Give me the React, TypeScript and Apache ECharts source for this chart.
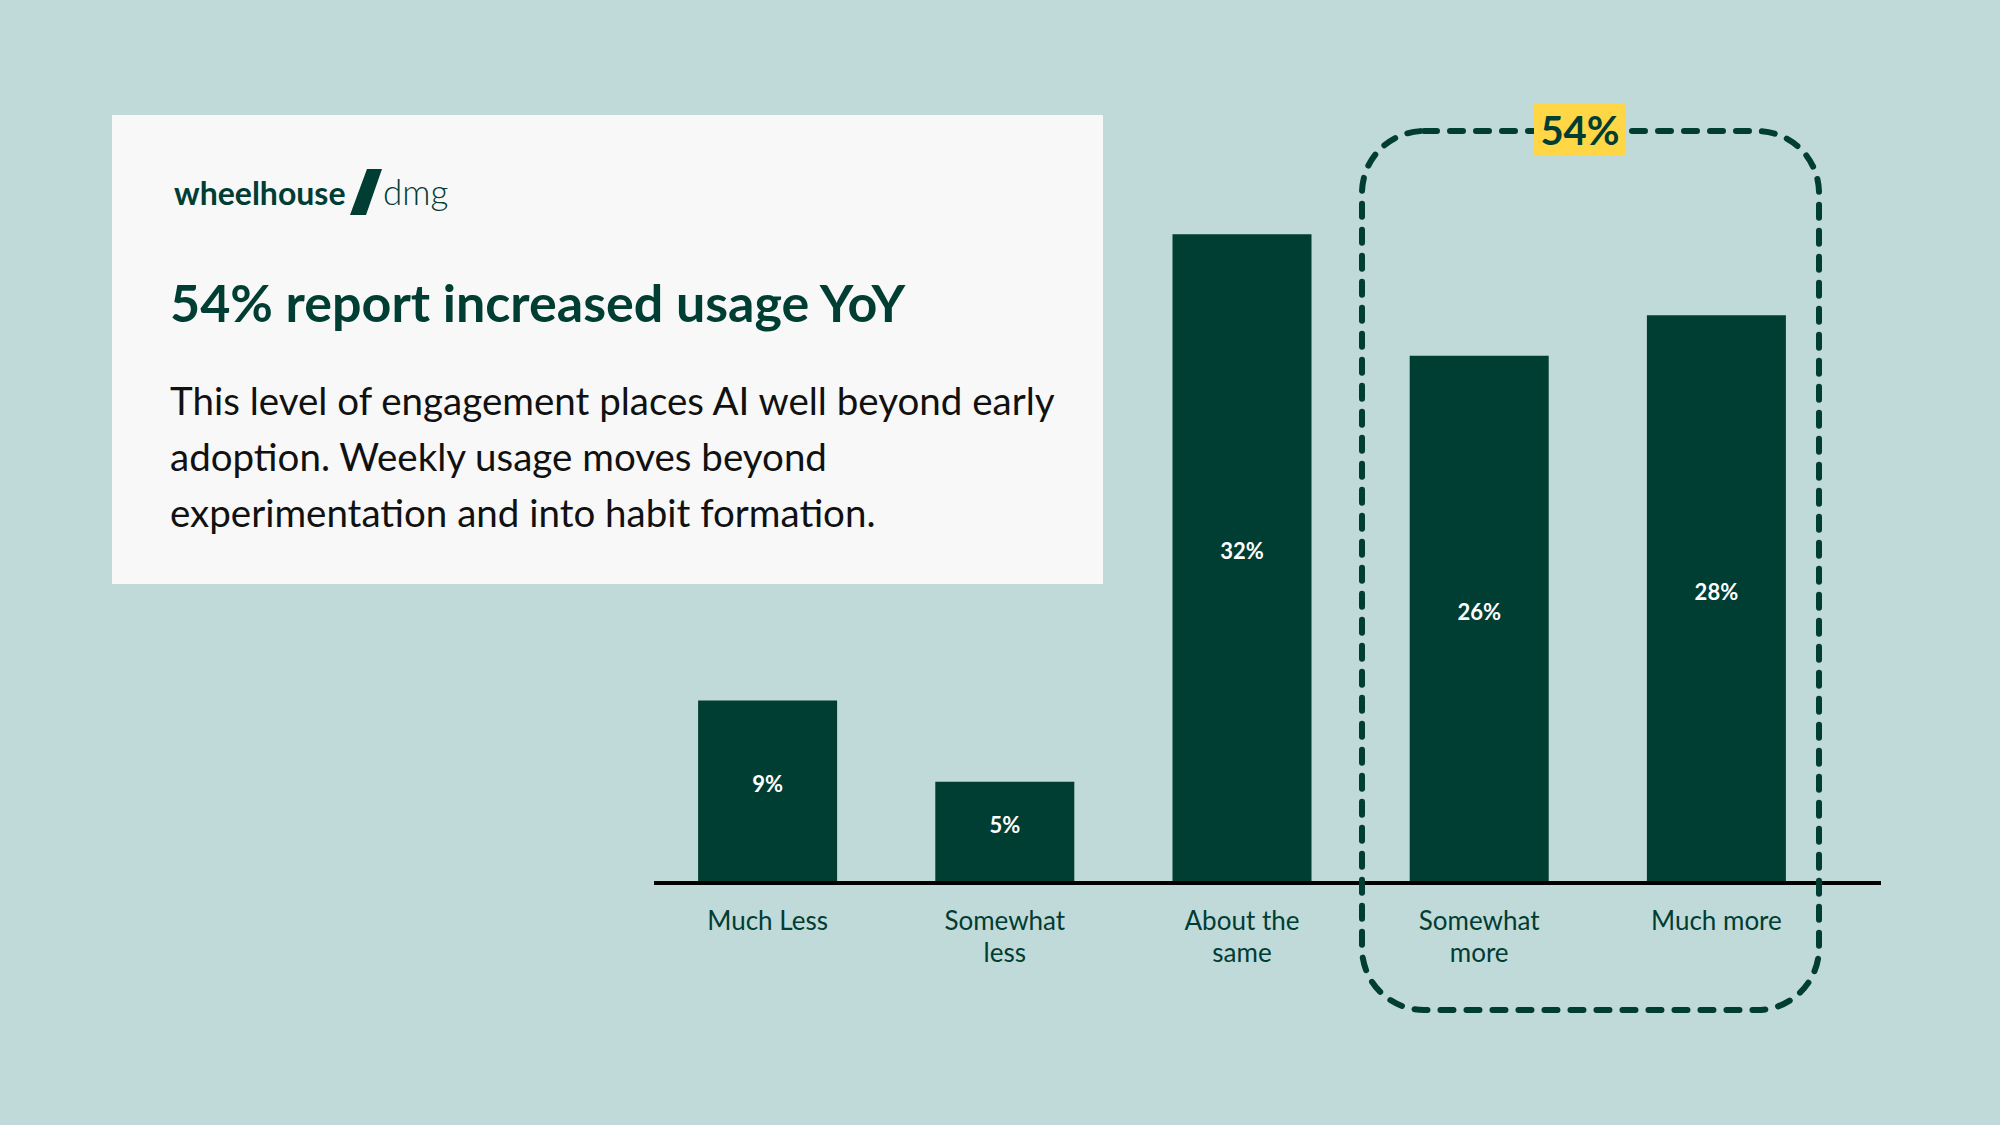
import React, { useEffect, useRef } from "react";
import * as echarts from "echarts";

const categories = ["Much Less", "Somewhat\nless", "About the\nsame", "Somewhat\nmore", "Much more"];
const values = [9, 5, 32, 26, 28];
const highlightIdx = [3, 4];
const titleText = "54% report increased usage YoY";
const bodyLines = [
  "This level of engagement places AI well beyond early",
  "adoption. Weekly usage moves beyond",
  "experimentation and into habit formation.",
];
const brandBold = "wheelhouse";
const brandLight = "dmg";

const GREEN = "#003d32";
const BG = "#c0d9d9";
const FONT = "Lato";

export default function App() {
  const ref = useRef<HTMLDivElement>(null);
  useEffect(() => {
    document.body.style.margin = "0";
    const chart = echarts.init(ref.current!, null, { renderer: "svg" });
    const total = highlightIdx.reduce((s, i) => s + values[i], 0);
    chart.setOption({
      animation: false,
      backgroundColor: BG,
      grid: { left: 649, width: 1186, top: 72, bottom: 242, containLabel: false },
      xAxis: {
        type: "category",
        data: categories,
        axisLine: { show: false },
        axisTick: { show: false },
        axisLabel: {
          color: GREEN,
          fontFamily: FONT,
          fontSize: 26,
          lineHeight: 32,
          margin: 21,
          interval: 0,
        },
      },
      yAxis: { type: "value", min: 0, max: 40, show: false, splitLine: { show: false } },
      series: [
        {
          type: "bar",
          data: values,
          barWidth: 139,
          itemStyle: { color: GREEN },
          label: {
            show: true,
            position: "inside",
            offset: [0, -8],
            formatter: (p: any) => `${p.value}%`,
            color: "#ffffff",
            fontFamily: FONT,
            fontWeight: 700,
            fontSize: 22,
          },
          z: 2,
        },
      ],
      graphic: [
        {
          type: "rect",
          shape: { x: 112, y: 115, width: 991, height: 469 },
          style: { fill: "#f8f8f8" },
          z: 0,
        },
        {
          type: "text",
          x: 174,
          y: 192,
          style: { text: brandBold, fill: GREEN, font: `700 32px ${FONT}`, textAlign: "left", textVerticalAlign: "middle" },
        },
        {
          type: "polygon",
          shape: { points: [[367, 169], [382, 169], [366, 215], [350, 215]] },
          style: { fill: GREEN },
        },
        {
          type: "text",
          x: 383,
          y: 191,
          style: { text: brandLight, fill: GREEN, font: `300 35px ${FONT}`, textAlign: "left", textVerticalAlign: "middle" },
        },
        {
          type: "text",
          x: 170,
          y: 302,
          style: { text: titleText, fill: GREEN, font: `700 52px ${FONT}`, textAlign: "left", textVerticalAlign: "middle" },
        },
        ...bodyLines.map((t, i) => ({
          type: "text",
          x: 170,
          y: 400 + i * 56,
          style: { text: t, fill: "#111111", font: `400 38.5px ${FONT}`, textAlign: "left", textVerticalAlign: "middle" },
        })),
        {
          type: "line",
          shape: { x1: 654, y1: 883, x2: 1881, y2: 883 },
          style: { stroke: "#000000", lineWidth: 4 },
          z: 5,
        },
        {
          type: "rect",
          shape: { x: 1362, y: 131, width: 457, height: 879, r: 62 },
          style: { fill: "none", stroke: GREEN, lineWidth: 6, lineDash: [13, 13], lineCap: "round" },
          z: 10,
        },
        {
          type: "rect",
          shape: { x: 1534, y: 103, width: 91, height: 53, r: 2 },
          style: { fill: "#ffd645" },
          z: 11,
        },
        {
          type: "text",
          x: 1580,
          y: 130,
          style: { text: `${total}%`, fill: GREEN, font: `700 40px ${FONT}`, textAlign: "center", textVerticalAlign: "middle" },
          z: 12,
        },
      ],
    });
    return () => chart.dispose();
  }, []);
  return <div ref={ref} style={{ width: 2000, height: 1125 }} />;
}
